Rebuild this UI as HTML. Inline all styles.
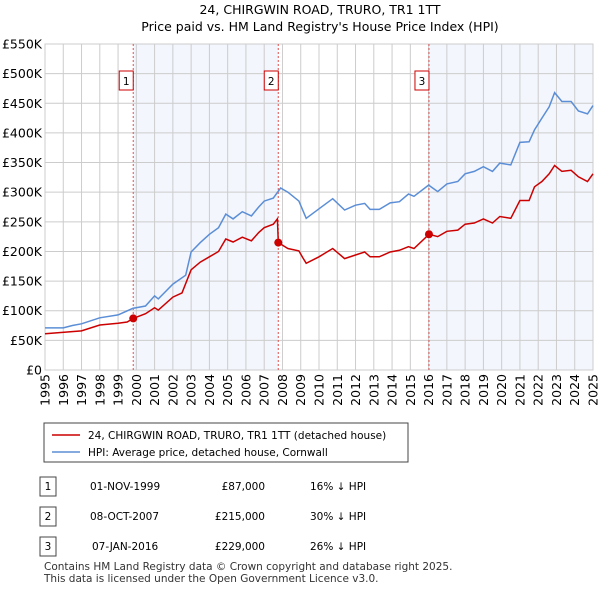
<!DOCTYPE html>
<html><head><meta charset="utf-8"><style>
body{margin:0;background:#fff;font-family:"Liberation Sans","DejaVu Sans",sans-serif;}
</style></head><body>
<svg width="600" height="590" xmlns="http://www.w3.org/2000/svg" font-family="DejaVu Sans, Liberation Sans, sans-serif">
<text x="320" y="14" text-anchor="middle" font-size="12.5">24, CHIRGWIN ROAD, TRURO, TR1 1TT</text>
<text x="320" y="31" text-anchor="middle" font-size="12.5">Price paid vs. HM Land Registry's House Price Index (HPI)</text>
<g id="plot"></g>
<g>
<rect x="44" y="423" width="364" height="39" fill="#fff" stroke="#444"/>
<line x1="52" y1="435" x2="80" y2="435" stroke="#cc0000" stroke-width="1.5"/>
<text x="88" y="439" font-size="10.5">24, CHIRGWIN ROAD, TRURO, TR1 1TT (detached house)</text>
<line x1="52" y1="452" x2="80" y2="452" stroke="#5b8ed6" stroke-width="1.5"/>
<text x="88" y="456" font-size="10.5">HPI: Average price, detached house, Cornwall</text>
</g>
<g font-size="10.5">
<rect x="40" y="477" width="16" height="19" fill="#fff" stroke="#444"/><text x="48" y="490" text-anchor="middle">1</text>
<text x="90" y="490">01-NOV-1999</text><text x="265" y="490" text-anchor="end">£87,000</text><text x="310" y="490">16% ↓ HPI</text>
<rect x="40" y="507" width="16" height="19" fill="#fff" stroke="#444"/><text x="48" y="520" text-anchor="middle">2</text>
<text x="90" y="520">08-OCT-2007</text><text x="265" y="520" text-anchor="end">£215,000</text><text x="310" y="520">30% ↓ HPI</text>
<rect x="40" y="537" width="16" height="19" fill="#fff" stroke="#444"/><text x="48" y="550" text-anchor="middle">3</text>
<text x="92" y="550">07-JAN-2016</text><text x="265" y="550" text-anchor="end">£229,000</text><text x="310" y="550">26% ↓ HPI</text>
</g>
<text x="44" y="570" font-size="10.5" fill="#333">Contains HM Land Registry data © Crown copyright and database right 2025.</text>
<text x="44" y="582" font-size="10.5" fill="#333">This data is licensed under the Open Government Licence v3.0.</text>
</svg>
<script>
const yTicks=[0,50,100,150,200,250,300,350,400,450,500,550];
const xYears=[1995,1996,1997,1998,1999,2000,2001,2002,2003,2004,2005,2006,2007,2008,2009,2010,2011,2012,2013,2014,2015,2016,2017,2018,2019,2020,2021,2022,2023,2024,2025];
const hpiT=[1995,1996,1996.5,1997,1998,1999,1999.8,2000.5,2001,2001.2,2002,2002.7,2003,2003.5,2004,2004.5,2004.9,2005.3,2005.8,2006.3,2006.7,2007,2007.5,2007.9,2008.3,2008.9,2009.3,2010,2010.75,2011.4,2012,2012.5,2012.8,2013.3,2013.9,2014.4,2014.9,2015.2,2016,2016.5,2017,2017.6,2018,2018.5,2019,2019.5,2019.9,2020.5,2021,2021.5,2021.8,2022.2,2022.6,2022.9,2023.3,2023.8,2024.2,2024.7,2025];
const hpiV=[71,71,75,78,88,93,104,108,125,120,145,160,199,215,229,240,263,255,267,260,275,285,290,307,300,285,256,272,289,270,278,281,271,271,282,284,297,293,312,301,314,318,331,335,343,335,349,346,384,385,405,425,444,468,453,453,437,432,446];
const priceT=[1995,1997,1998,1999,1999.5,1999.83,2000.5,2001,2001.2,2002,2002.5,2003,2003.5,2004,2004.5,2004.9,2005.3,2005.8,2006.3,2006.7,2007,2007.5,2007.72,2007.77,2008.3,2008.9,2009.1,2009.3,2010,2010.75,2011.4,2012,2012.5,2012.8,2013.3,2013.9,2014.4,2014.9,2015.2,2016.02,2016.5,2017,2017.6,2018,2018.5,2019,2019.5,2019.9,2020.5,2021,2021.5,2021.8,2022.2,2022.6,2022.9,2023.3,2023.8,2024.2,2024.7,2025];
const priceV=[61,66,76,79,81,87,95,105,101,123,130,169,182,191,200,221,216,224,218,232,240,246,255,215,205,201,190,180,191,205,188,194,199,191,191,199,202,208,205,229,225,234,236,246,248,255,248,259,256,286,286,309,318,331,345,335,337,326,318,331];
const saleT=[1999.83,2007.77,2016.02];
const saleV=[87,215,229];
const saleLabels=["1","2","3"];
const X0=45,X1=593,Y0=370,Y1=44;
const xs=t=>X0+(t-1995)/30*(X1-X0);
const ys=v=>Y0-v/550*(Y0-Y1);
const NS="http://www.w3.org/2000/svg";
const g=document.getElementById('plot');
function mk(tag,attrs,parent){const e=document.createElementNS(NS,tag);for(const k in attrs)e.setAttribute(k,attrs[k]);(parent||g).appendChild(e);return e;}
const bg=mk('rect',{x:X0,y:Y1,width:X1-X0,height:Y0-Y1,fill:'#fff'});


[[saleT[0],saleT[1]],[saleT[2],2025]].forEach(p=>{const r=mk('rect',{x:xs(p[0]),y:Y1,width:xs(p[1])-xs(p[0]),height:Y0-Y1,fill:'#f3f6fd'});

});
yTicks.forEach(v=>{const l=mk('line',{x1:X0,x2:X1,y1:ys(v),y2:ys(v),stroke:'#ccc'});


const t=mk('text',{x:X0-3,y:ys(v)+4.5,'text-anchor':'end','font-size':'12.5'});t.textContent=v===0?'£0':'£'+v+'K';

});
xYears.forEach(yr=>{const l=mk('line',{x1:xs(yr),x2:xs(yr),y1:Y1,y2:Y0,stroke:'#ccc'});


const t=mk('text',{x:0,y:0,'text-anchor':'end','font-size':'12.5',transform:`translate(${xs(yr)+4.5},374) rotate(-90)`});t.textContent=yr;

});
mk('rect',{x:X0,y:Y1,width:X1-X0,height:Y0-Y1,fill:'none',stroke:'#ccc'});
saleT.forEach((t,i)=>{const l=mk('line',{x1:xs(t),x2:xs(t),y1:Y1,y2:Y0,stroke:'#e05050','stroke-dasharray':'2,2'});


const r=mk('rect',{x:xs(t)-14,y:71,width:14,height:19,fill:'#fff',stroke:'#c00'});


const tx=mk('text',{x:xs(t)-7,y:85,'text-anchor':'middle','font-size':'10.5'});tx.textContent=saleLabels[i];});
const path=(T,V)=>T.map((t,i)=>(i?'L':'M')+xs(t).toFixed(1)+','+ys(V[i]).toFixed(1)).join('');
const h=mk('path',{d:path(hpiT,hpiV),fill:'none',stroke:'#5b8ed6','stroke-width':1.5});


const p=mk('path',{d:path(priceT,priceV),fill:'none',stroke:'#cc0000','stroke-width':1.5});


saleT.forEach((t,i)=>{const c=mk('circle',{cx:xs(t),cy:ys(saleV[i]),r:4,fill:'#cc0000'});

});
</script>
</body></html>
